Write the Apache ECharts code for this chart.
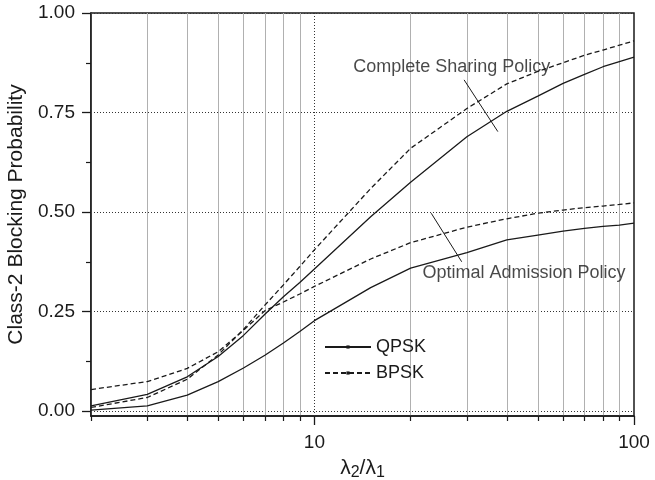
<!DOCTYPE html>
<html>
<head>
<meta charset="utf-8">
<script src="https://cdn.jsdelivr.net/npm/echarts@6/dist/echarts.min.js"></script>
<style>html,body{margin:0;padding:0;background:#fff;}#c{width:655px;height:480px;}</style>
</head>
<body>
<div id="c"></div>
<script>
// ratio lambda2/lambda1
var xs = [2, 3, 4, 5, 6, 7, 8, 9, 10, 15, 20, 30, 40, 50, 60, 70, 80, 90, 100];
// Complete Sharing Policy
var qpskCS = [0.013, 0.042, 0.086, 0.137, 0.19, 0.243, 0.287, 0.323, 0.357, 0.488, 0.575, 0.689, 0.753, 0.791, 0.823, 0.846, 0.865, 0.878, 0.889];
var bpskCS = [0.009, 0.034, 0.08, 0.141, 0.205, 0.266, 0.317, 0.363, 0.405, 0.559, 0.66, 0.76, 0.822, 0.853, 0.875, 0.894, 0.907, 0.919, 0.93];
// Optimal Admission Policy
var qpskOA = [0.0025, 0.013, 0.04, 0.074, 0.108, 0.14, 0.171, 0.2, 0.227, 0.31, 0.359, 0.398, 0.43, 0.442, 0.452, 0.459, 0.464, 0.467, 0.472];
var bpskOA = [0.054, 0.074, 0.107, 0.149, 0.203, 0.252, 0.274, 0.294, 0.313, 0.382, 0.423, 0.462, 0.483, 0.497, 0.505, 0.511, 0.515, 0.519, 0.523];

var xMajorTicks = [10, 100];
var xMinorTicks = [2, 3, 4, 5, 6, 7, 8, 9, 20, 30, 40, 50, 60, 70, 80, 90];
var yMajorTicks = [0, 0.25, 0.5, 0.75, 1.0];
var yMinorTicks = [0.125, 0.375, 0.625, 0.875];
var yGridValues = [0, 0.25, 0.5, 0.75];
var xGridMajor = [10];

// annotations (data coordinates)
var csLabel = [26.9, 0.865];
var csLeader = [[29.4, 0.832], [37.5, 0.702]];
var oaLabel = [45.3, 0.347];
var oaLeader = [[23.2, 0.497], [28.9, 0.375]];

function zip(a, b) { return a.map(function (v, i) { return [v, b[i]]; }); }

var INK = '#1a1a1a';
var FONT = 'Liberation Sans, Arial, sans-serif';

var chart = echarts.init(document.getElementById('c'), null, { renderer: 'canvas' });

function curve(name, vals, dashed) {
  return {
    type: 'line', name: name, data: zip(xs, vals),
    xAxisIndex: 0, yAxisIndex: 0,
    symbol: 'rect', symbolSize: 3, showSymbol: false,
    lineStyle: { color: INK, width: 1.3, type: dashed ? [5, 3] : 'solid' },
    itemStyle: { color: INK },
    animation: false, silent: true, z: 5
  };
}

var option = {
  animation: false,
  grid: { left: 91, right: 21, top: 13, bottom: 64, outerBoundsMode: 'none', containLabel: false, show: true, borderColor: INK, borderWidth: 1.5, backgroundColor: 'transparent' },
  legend: {
    data: ['QPSK', 'BPSK'], orient: 'vertical', left: 319, top: 333,
    itemWidth: 46, itemHeight: 4, itemGap: 8,
    textStyle: { fontSize: 18, color: INK, fontFamily: FONT }
  },
  xAxis: [
    {
      type: 'log', logBase: 10, min: 2, max: 100, position: 'bottom',
      axisLine: { show: true, onZero: false, lineStyle: { color: INK, width: 1.5 } },
      axisTick: { show: true, inside: false, length: 9, customValues: xMajorTicks, lineStyle: { color: INK, width: 1.3 } },
      axisLabel: { customValues: xMajorTicks, fontSize: 19, color: INK, fontFamily: FONT, margin: 17 },
      splitLine: { show: false },
      name: '{a|λ}{b|2}{a|/λ}{b|1}', nameLocation: 'middle', nameGap: 39,
      nameTextStyle: { fontFamily: FONT, rich: { a: { fontSize: 21, color: INK, fontFamily: FONT }, b: { fontSize: 16, color: INK, fontFamily: FONT, padding: [10, 0, 0, 0] } } }
    },
    {
      type: 'log', logBase: 10, min: 2, max: 100, position: 'bottom',
      axisLine: { show: false, onZero: false },
      axisTick: { show: true, inside: false, length: 5, customValues: xMinorTicks, lineStyle: { color: INK, width: 1.2 } },
      axisLabel: { show: false },
      splitLine: { show: true, customValues: xMinorTicks, lineStyle: { color: '#b0b0b0', width: 1, type: 'solid' } }
    }
  ],
  yAxis: [
    {
      type: 'value', min: -0.0125, max: 1.0,
      axisLine: { show: true, onZero: false, lineStyle: { color: INK, width: 1.5 } },
      axisTick: { show: true, inside: false, length: 9, customValues: yMajorTicks, lineStyle: { color: INK, width: 1.3 } },
      axisLabel: { customValues: yMajorTicks, fontSize: 19, color: INK, fontFamily: FONT, margin: 16, formatter: function (v) { return v.toFixed(2); } },
      splitLine: { show: true, customValues: yGridValues, lineStyle: { color: '#333', width: 1, type: [1, 2] } },
      name: 'Class-2 Blocking Probability', nameLocation: 'middle', nameGap: 63,
      nameTextStyle: { fontSize: 21, color: INK, fontFamily: FONT }
    },
    {
      type: 'value', min: -0.0125, max: 1.0, position: 'left',
      axisLine: { show: false, onZero: false },
      axisTick: { show: true, inside: false, length: 5, customValues: yMinorTicks, lineStyle: { color: INK, width: 1.2 } },
      axisLabel: { show: false },
      splitLine: { show: false }
    }
  ],
  series: [
    curve('QPSK', qpskCS, false),
    curve('BPSK', bpskCS, true),
    curve('QPSK', qpskOA, false),
    curve('BPSK', bpskOA, true),
    {
      type: 'line', name: 'grid10', data: [], xAxisIndex: 0, yAxisIndex: 0, silent: true,
      markLine: {
        silent: true, symbol: ['none', 'none'], label: { show: false },
        lineStyle: { color: '#333', width: 1, type: [1, 2] },
        data: xGridMajor.map(function (v) { return { xAxis: v }; })
      }
    },
    {
      type: 'line', name: 'leaderCS', data: csLeader, xAxisIndex: 0, yAxisIndex: 0,
      showSymbol: false, symbol: 'none', silent: true, lineStyle: { color: INK, width: 1 }, z: 6
    },
    {
      type: 'line', name: 'leaderOA', data: oaLeader, xAxisIndex: 0, yAxisIndex: 0,
      showSymbol: false, symbol: 'none', silent: true, lineStyle: { color: INK, width: 1 }, z: 6
    },
    {
      type: 'scatter', name: 'labels', xAxisIndex: 0, yAxisIndex: 0, symbolSize: 0, silent: true, z: 7,
      data: [
        { value: csLabel, label: { formatter: 'Complete Sharing Policy' } },
        { value: oaLabel, label: { formatter: 'Optimal Admission Policy' } }
      ],
      label: { show: true, position: 'inside', fontSize: 18, color: INK, fontFamily: FONT }
    }
  ]
};
chart.setOption(option);
</script>
</body>
</html>
